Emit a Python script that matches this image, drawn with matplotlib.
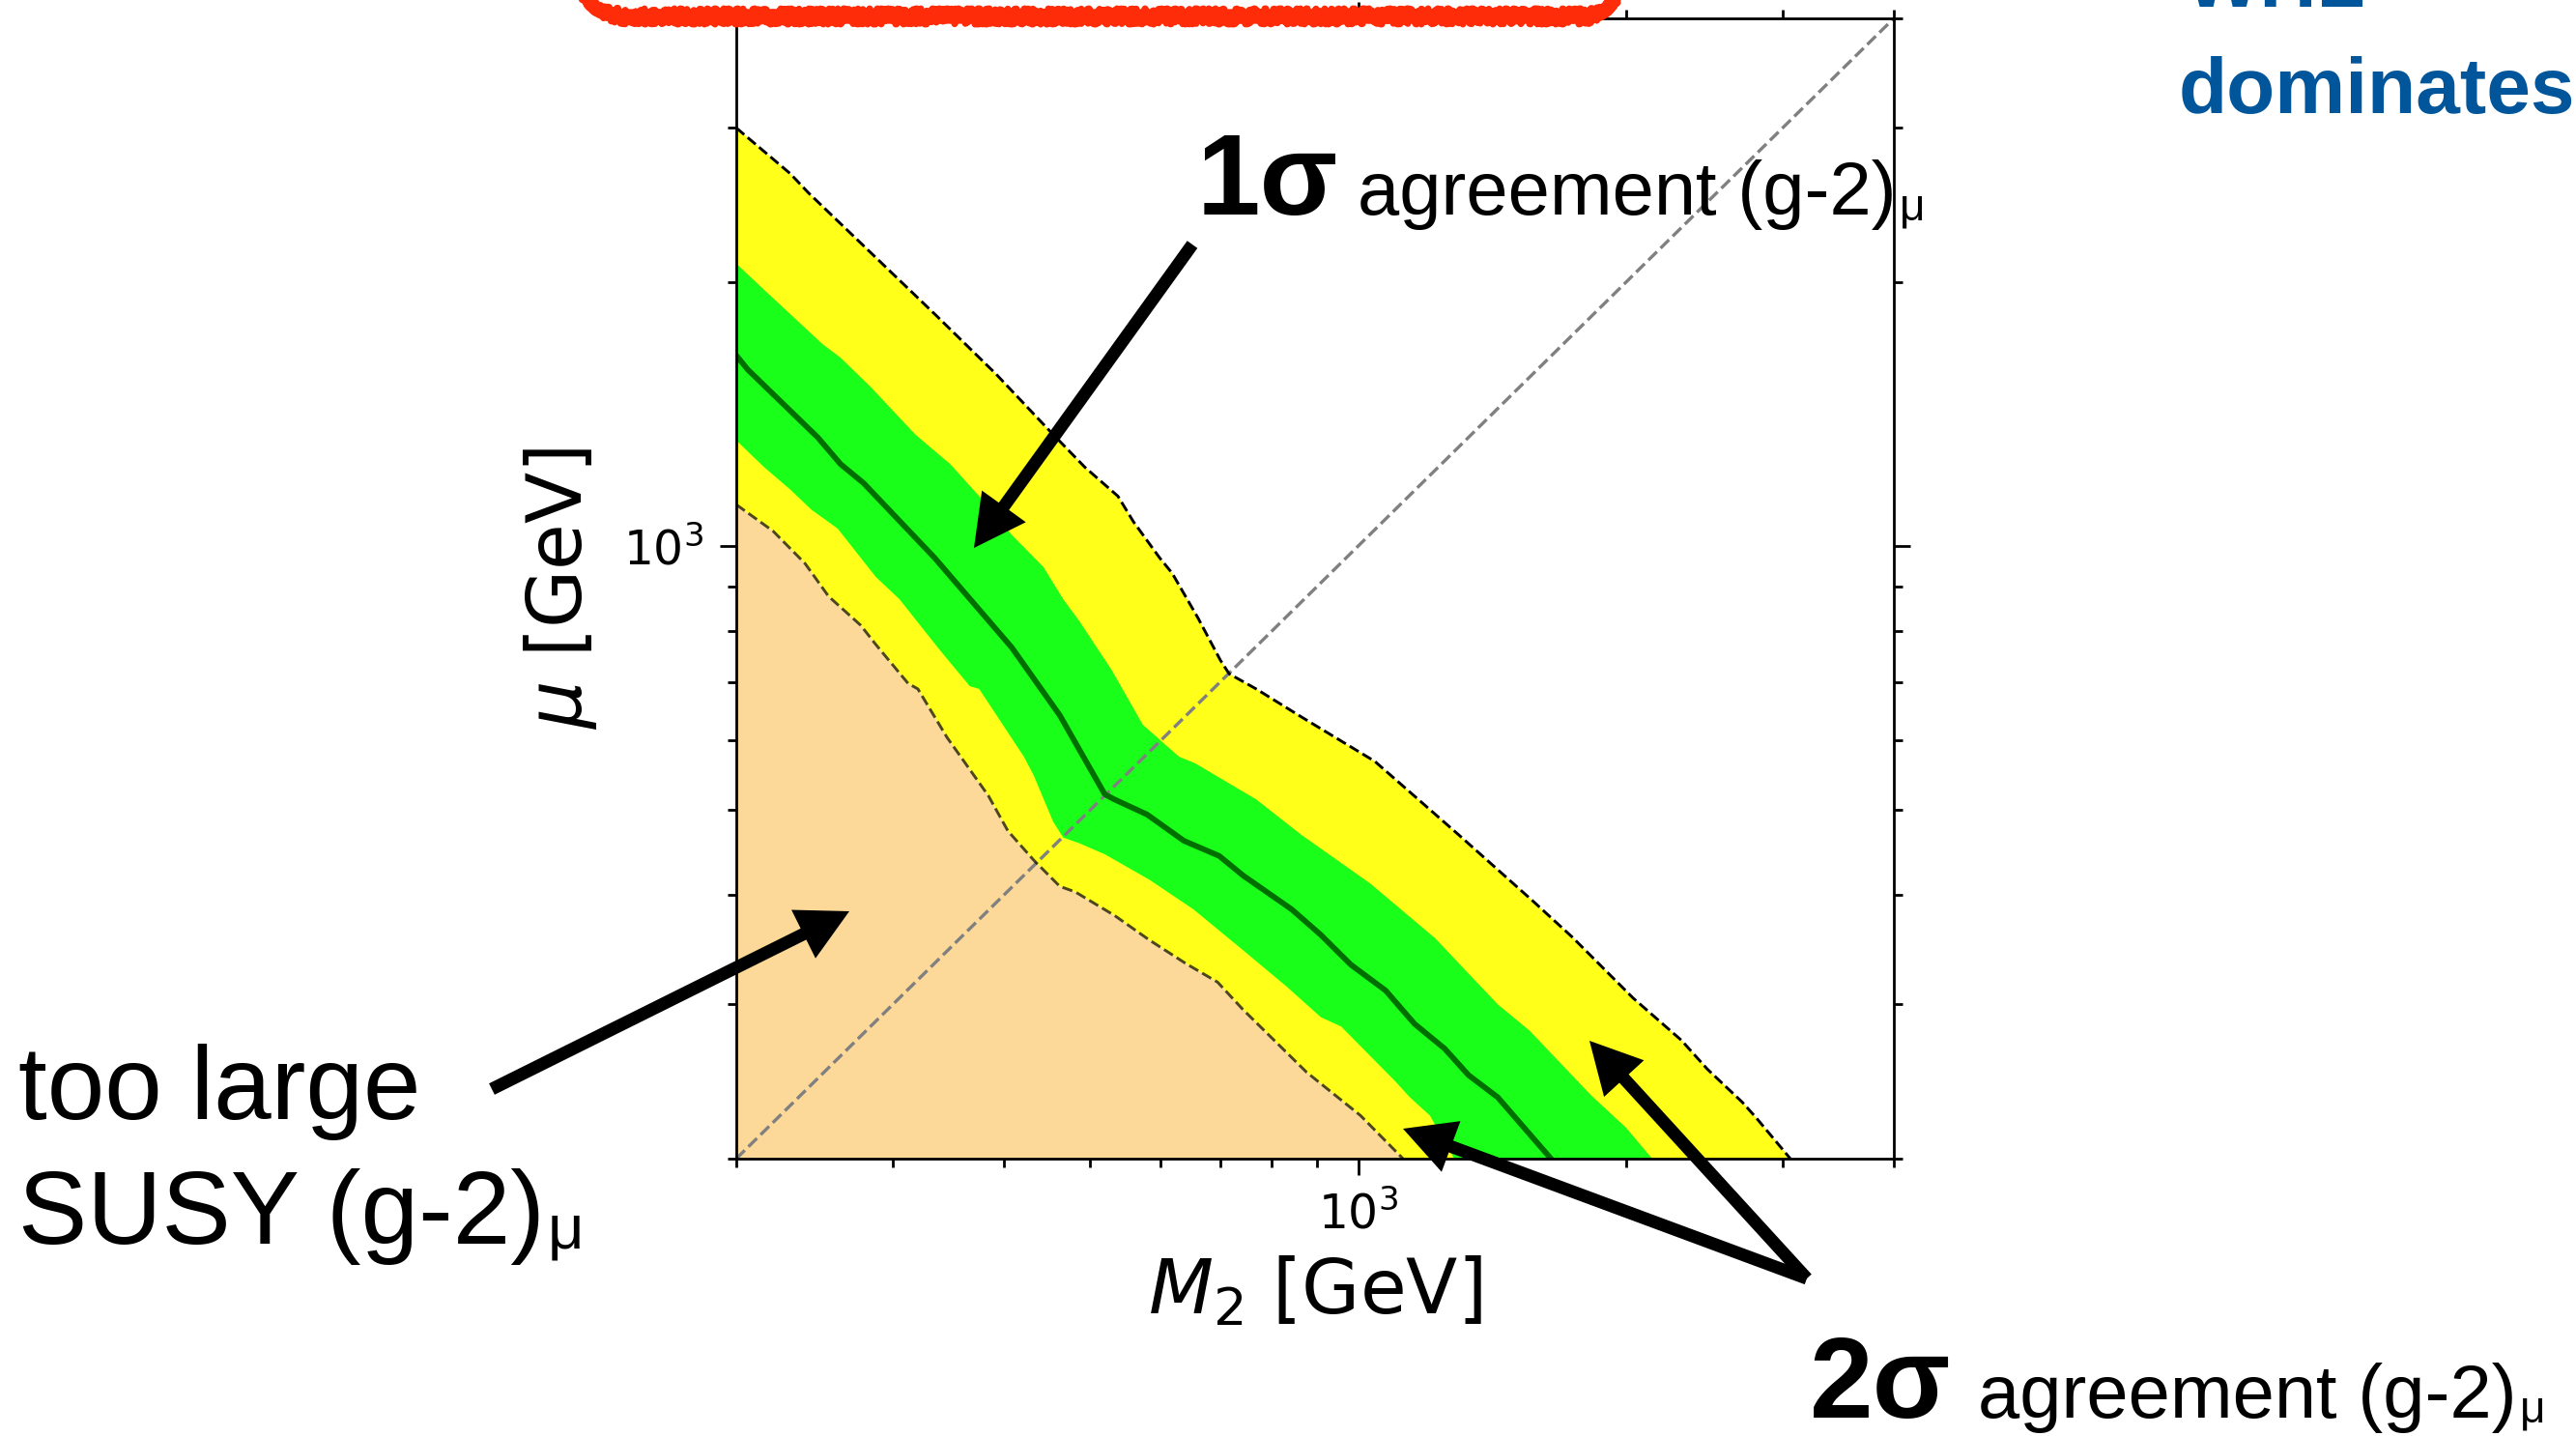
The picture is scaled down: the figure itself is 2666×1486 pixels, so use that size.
import matplotlib
matplotlib.use("Agg")
import matplotlib.pyplot as plt
from matplotlib.path import Path
from matplotlib.patches import PathPatch
import numpy as np

# contour boundaries in the (M2, mu) plane, GeV
upper2_m2 = [200, 230, 241, 336, 392, 448, 493, 537, 559, 598, 618, 661, 700, 716,
             768, 864, 1044, 1298, 1574, 1740, 2037, 2308, 2469, 2702, 2798, 3060]
upper2_mu = [3000, 2660, 2530, 1830, 1570, 1360, 1230, 1140, 1066, 970, 931, 827, 741, 715,
             687, 638, 568, 468, 393, 358, 305, 273, 253, 232, 223, 200]

upper1_m2 = [200, 215, 250, 262, 283, 318, 348, 375, 408, 443, 466, 486, 528, 573,
             629, 656, 768, 864, 1032, 1220, 1435, 1558, 1829, 2000, 2140]
upper1_mu = [2100, 1960, 1700, 1640, 1520, 1340, 1240, 1140, 1030, 946, 870, 821, 723, 625,
             575, 565, 514, 468, 412, 357, 300, 280, 236, 217, 200]

central_m2 = [200, 206, 247, 262, 278, 334, 408, 462, 519, 532, 579, 637, 698, 742,
              842, 908, 981, 1074, 1157, 1251, 1331, 1435, 1536, 1647]
central_mu = [1650, 1590, 1330, 1240, 1180, 970, 766, 641, 521, 514, 494, 461, 443, 421,
              385, 360, 333, 311, 285, 267, 249, 235, 217, 200]

lower1_m2 = [200, 215, 230, 243, 260, 287, 305, 339, 366, 375, 421, 432, 454, 466,
             486, 519, 583, 653, 742, 832, 908, 957, 1101, 1143, 1204, 1282]
lower1_mu = [1320, 1230, 1160, 1100, 1047, 922, 870, 760, 692, 687, 575, 547, 485, 465,
             458, 445, 416, 385, 346, 314, 290, 283, 245, 235, 224, 200]

lower2_m2 = [200, 220, 239, 254, 276, 287, 312, 320, 345, 384, 404, 432, 462, 481,
             532, 583, 640, 695, 742, 875, 1006, 1123]
lower2_mu = [1115, 1040, 955, 876, 812, 772, 697, 687, 605, 519, 473, 438, 409, 403,
             379, 355, 334, 318, 296, 251, 224, 200]

diag = [200, 4000]
lims = (200, 4000)

peach = "#FCD999"
yellow = "#FFFF1A"
lime = "#1AFF1A"
darkgreen = "#006F00"
blue = "#00559B"
red = "#FF2C0A"
note_font = ["Liberation Sans", "DejaVu Sans"]

W, H = 2666, 1486
fig = plt.figure(figsize=(W / 100, H / 100), dpi=100)
ax = fig.add_axes([762 / W, 1 - 1199 / H, 1198 / W, 1180 / H])
ax.set_xscale("log")
ax.set_yscale("log")

# too large (g-2), 2 sigma band, 1 sigma band
ax.fill(np.r_[lower2_m2, lims[0]], np.r_[lower2_mu, lims[0]], color=peach, lw=0)
ax.fill(np.r_[upper2_m2, lower2_m2[::-1]], np.r_[upper2_mu, lower2_mu[::-1]],
        color=yellow, lw=0)
ax.fill(np.r_[upper1_m2, lower1_m2[::-1]], np.r_[upper1_mu, lower1_mu[::-1]],
        color=lime, lw=0)

ax.plot(diag, diag, ls="--", color="gray", lw=2.4)
ax.plot(central_m2, central_mu, color=darkgreen, lw=4.2)
ax.plot(upper2_m2, upper2_mu, ls="--", color="k", lw=2.1)
ax.plot(lower2_m2, lower2_mu, ls="--", color="k", lw=2.1, alpha=0.7)

ax.set_xlim(lims)
ax.set_ylim(lims)
ax.tick_params(which="both", direction="out", top=True, right=True, width=2)
ax.tick_params(which="major", length=12, labelsize=35, pad=12)
ax.tick_params(which="minor", length=6.5)
for s in ax.spines.values():
    s.set_linewidth(2)
ax.set_xlabel(r"$M_2$ [GeV]", fontsize=56, labelpad=12)
ax.set_ylabel(r"$\mu$ [GeV]", fontsize=56, labelpad=18)


def fpos(x, y):
    return x / W, 1 - y / H


def label(x, y, main, size, mu_size):
    """Text with a (g-2) subscript mu placed right after it."""
    t = fig.text(*fpos(x, y), main, fontsize=size, family=note_font,
                 va="baseline", ha="left")
    fig.canvas.draw()
    bb = t.get_window_extent(fig.canvas.get_renderer())
    fig.text(bb.x1 / W + 3 / W, 1 - (y + 5) / H, "μ", fontsize=mu_size,
             family=note_font, va="baseline", ha="left")


def arrow(tail, tip):
    ax.annotate("", xy=(tip[0], H - tip[1]), xycoords="figure pixels",
                xytext=(tail[0], H - tail[1]), textcoords="figure pixels",
                arrowprops=dict(arrowstyle="simple,head_length=0.53,head_width=0.56,tail_width=0.13",
                                mutation_scale=72, fc="k", ec="none", lw=0,
                                shrinkA=0, shrinkB=0))


fig.text(*fpos(1239, 222), "1σ", fontsize=85, fontweight="bold", family=note_font, va="baseline")
label(1405, 222, "agreement (g-2)", 56, 33)

fig.text(*fpos(1873, 1467), "2σ", fontsize=85, fontweight="bold", family=note_font, va="baseline")
label(2047, 1467, "agreement (g-2)", 56, 33)

fig.text(*fpos(19, 1158), "too large", fontsize=77, family=note_font, va="baseline")
label(19, 1287, "SUSY (g-2)", 77, 47)

fig.text(*fpos(2255, 117), "dominates", fontsize=59, fontweight="bold",
         family=note_font, color=blue, va="baseline")
fig.text(*fpos(2262, 7), "WHL", fontsize=59, fontweight="bold",
         family=note_font, color=blue, va="baseline")

arrow((1234, 253), (1008, 567))
arrow((509, 1127), (879, 943))
arrow((1870, 1323), (1452, 1168))
arrow((1870, 1323), (1645, 1077))

# red marker stroke along the top: solid core plus rough edges
codes = [Path.MOVETO, Path.CURVE3, Path.CURVE3, Path.LINETO, Path.CURVE3, Path.CURVE3]
for dy, lw, rough in [(0, 11, False), (-5, 5, True), (0, 7, True), (5, 5, True)]:
    verts = [fpos(606 + dy, -12), fpos(608 + dy, 17 + dy), fpos(652, 17 + dy),
             fpos(1640, 17 + dy), fpos(1668 - dy, 17 + dy), fpos(1673 - dy, -12)]
    stroke = PathPatch(Path(verts, codes), transform=fig.transFigure, fill=False,
                       ec=red, lw=lw, capstyle="round", joinstyle="round")
    if rough:
        stroke.set_sketch_params(scale=3, length=6, randomness=20)
    fig.add_artist(stroke)

fig.savefig("out.png", dpi=100)
